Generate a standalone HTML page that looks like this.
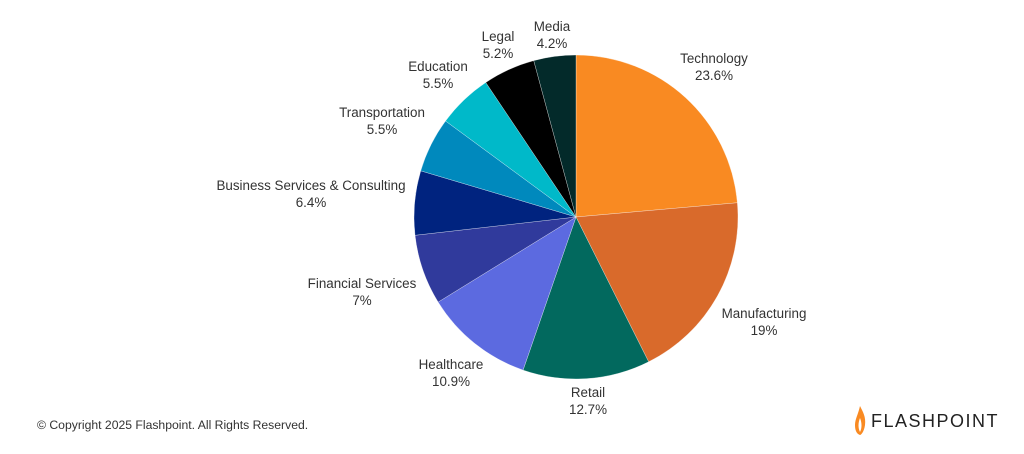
<!DOCTYPE html>
<html><head><meta charset="utf-8"><style>
body{margin:0;width:1024px;height:454px;background:#fff;position:relative;overflow:hidden;font-family:"Liberation Sans",sans-serif;color:#333}
.l{position:absolute;font-size:13.4px;line-height:17px;text-align:center;transform:translateX(-50%);white-space:nowrap}
</style></head><body>
<svg id="p" width="1024" height="454" style="position:absolute;left:0;top:0"></svg>
<div class="l" style="left:714px;top:50px">Technology<br>23.6%</div>
<div class="l" style="left:764px;top:305px">Manufacturing<br>19%</div>
<div class="l" style="left:588px;top:384px">Retail<br>12.7%</div>
<div class="l" style="left:451px;top:356px">Healthcare<br>10.9%</div>
<div class="l" style="left:362px;top:275px">Financial Services<br>7%</div>
<div class="l" style="left:311px;top:177px">Business Services &amp; Consulting<br>6.4%</div>
<div class="l" style="left:382px;top:104px">Transportation<br>5.5%</div>
<div class="l" style="left:438px;top:58px">Education<br>5.5%</div>
<div class="l" style="left:498px;top:28px">Legal<br>5.2%</div>
<div class="l" style="left:552px;top:18px">Media<br>4.2%</div>
<div style="position:absolute;left:37px;top:418px;font-size:12.2px;color:#333">© Copyright 2025 Flashpoint. All Rights Reserved.</div>
<svg style="position:absolute;left:854px;top:406px" width="12" height="30" viewBox="0 0 12 30"><path d="M6 0 C9 6 12 11 11 19 C10 26 7 29 6 29 C3 28 1 25 1 19 C1 13 4 9 6 0Z" fill="#f98a22"/><path d="M6 12 C8 17 8 22 6 26 C4 22 4 17 6 12Z" fill="#fff"/></svg>
<div style="position:absolute;left:871px;top:411px;font-size:18px;letter-spacing:1.5px;color:#222">FLASHPOINT</div>
<script>
var d=[[23.6,"#f98a22"],[19,"#d96a2b"],[12.7,"#02695e"],[10.9,"#5c6ae0"],[7,"#303a9c"],[6.4,"#00237f"],[5.5,"#0089bd"],[5.5,"#00b9c9"],[5.2,"#000000"],[4.2,"#032a2a"]];
var cx=576,cy=217,r=162,a=0,s="";
d.forEach(function(e){var b=a+e[0]/100*2*Math.PI;
var x1=cx+r*Math.sin(a),y1=cy-r*Math.cos(a),x2=cx+r*Math.sin(b),y2=cy-r*Math.cos(b);
s+='<path d="M'+cx+' '+cy+'L'+x1+' '+y1+'A'+r+' '+r+' 0 '+(b-a>Math.PI?1:0)+' 1 '+x2+' '+y2+'Z" fill="'+e[1]+'" stroke="#fff" stroke-width="0.3"/>';a=b;});
document.getElementById("p").innerHTML=s;
</script>
</body></html>
